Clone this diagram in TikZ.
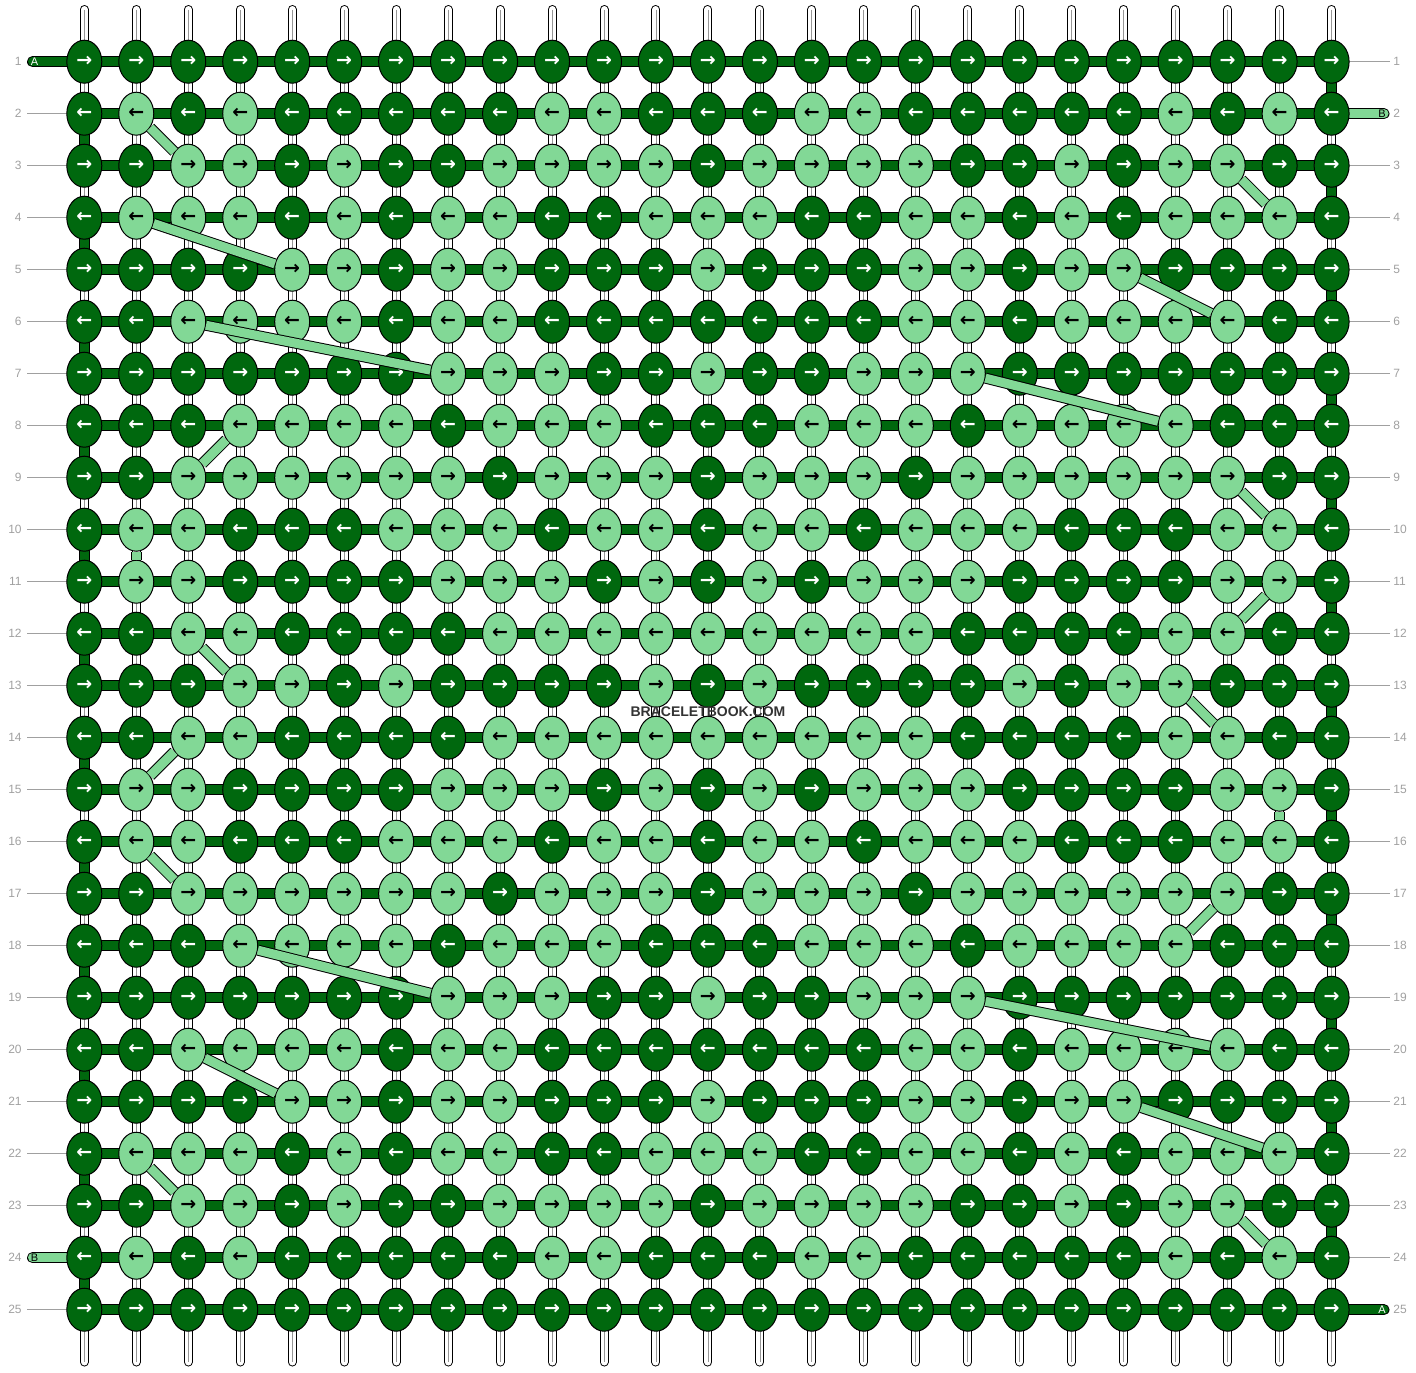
\documentclass[tikz,border=0pt]{standalone}
\usepackage{fontspec}
\setmainfont{Liberation Sans}
\newfontfamily\arrowfont{DejaVu Sans}
\usetikzlibrary{shapes.geometric}
\definecolor{dg}{RGB}{0,104,14}
\definecolor{lg}{RGB}{130,216,150}
\definecolor{lbl}{RGB}{160,160,160}
\definecolor{wm}{RGB}{51,51,51}
\definecolor{strmid}{RGB}{150,150,150}
\begin{document}
\begin{tikzpicture}[x=0.5pt,y=-0.5pt,
  knot/.style={ellipse,draw=black,line width=0.5pt,minimum width=17.5pt,minimum height=21.5pt,inner sep=0pt,font=\arrowfont\bfseries\fontsize{9.5}{9.5}\selectfont},
  thrA/.style={line width=0.5pt,draw=black,double=dg,double distance=4.5pt},
  thrB/.style={line width=0.5pt,draw=black,double=lg,double distance=4.5pt},
  strout/.style={line width=4.5pt,draw=black,line cap=round},
  strin/.style={line width=3.5pt,draw=white,line cap=round},
  strc/.style={line width=0.4pt,draw=strmid},
  lblline/.style={line width=0.5pt,draw=lbl},
  lbltext/.style={inner sep=0pt,text=lbl,font=\fontsize{6}{6}\selectfont},
  endlbl/.style={inner sep=0pt,font=\fontsize{5.5}{5.5}\selectfont}]
\useasboundingbox (0,0) rectangle (1416,1372);
% coordinates
\foreach \r in {1,...,25}{
  \foreach \c in {1,...,25}{
    \coordinate (p-\r-\c) at ({84.3+51.97*(\c-1)},{61.7+52*(\r-1)});
  }
}
% vertical strings
\foreach \c in {1,...,25}{
  \coordinate (st-\c) at ({84.3+51.97*(\c-1)},9.5);
  \coordinate (sb-\c) at ({84.3+51.97*(\c-1)},1362);
  \draw[strout] (st-\c) -- (sb-\c);
  \draw[strin] (st-\c) -- (sb-\c);
  \draw[strc] (st-\c) -- (sb-\c);
}
% thread A
\coordinate (Astart) at (32.5,61.7);
\coordinate (Aend) at (1384,1309.7);
\draw[thrA,line cap=round] (Astart)
  \foreach \r [evaluate=\r as \s using int(\r+1)] in {1,3,...,23} { -- (p-\r-1) -- (p-\r-25) -- (p-\s-25) -- (p-\s-1) }
  -- (p-25-1) -- (p-25-25) -- (Aend);
% thread B stubs
\coordinate (Bstart) at (1384,113.7);
\coordinate (Bend) at (32.5,1257.7);
\draw[thrB,line cap=round] (Bstart) -- (p-2-25);
\draw[thrB,line cap=round] (Bend) -- (p-24-1);
% label lines
\foreach \r in {2,...,23,25}{
  \coordinate (ll-\r) at (27,{61.7+52*(\r-1)});
  \draw[lblline] (ll-\r) -- (p-\r-1);
}
\foreach \r in {1,3,4,...,24}{
  \coordinate (rl-\r) at (1390,{61.7+52*(\r-1)});
  \draw[lblline] (rl-\r) -- (p-\r-25);
}
% knots
\foreach \r/\pat in {
 1/{0,0,0,0,0,0,0,0,0,0,0,0,0,0,0,0,0,0,0,0,0,0,0,0,0},
 2/{0,1,0,1,0,0,0,0,0,1,1,0,0,0,1,1,0,0,0,0,0,1,0,1,0},
 3/{0,0,1,1,0,1,0,0,1,1,1,1,0,1,1,1,1,0,0,1,0,1,1,0,0},
 4/{0,1,1,1,0,1,0,1,1,0,0,1,1,1,0,0,1,1,0,1,0,1,1,1,0},
 5/{0,0,0,0,1,1,0,1,1,0,0,0,1,0,0,0,1,1,0,1,1,0,0,0,0},
 6/{0,0,1,1,1,1,0,1,1,0,0,0,0,0,0,0,1,1,0,1,1,1,1,0,0},
 7/{0,0,0,0,0,0,0,1,1,1,0,0,1,0,0,1,1,1,0,0,0,0,0,0,0},
 8/{0,0,0,1,1,1,1,0,1,1,1,0,0,0,1,1,1,0,1,1,1,1,0,0,0},
 9/{0,0,1,1,1,1,1,1,0,1,1,1,0,1,1,1,0,1,1,1,1,1,1,0,0},
 10/{0,1,1,0,0,0,1,1,1,0,1,1,0,1,1,0,1,1,1,0,0,0,1,1,0},
 11/{0,1,1,0,0,0,0,1,1,1,0,1,0,1,0,1,1,1,0,0,0,0,1,1,0},
 12/{0,0,1,1,0,0,0,0,1,1,1,1,1,1,1,1,1,0,0,0,0,1,1,0,0},
 13/{0,0,0,1,1,0,1,0,0,0,0,1,0,1,0,0,0,0,1,0,1,1,0,0,0},
 14/{0,0,1,1,0,0,0,0,1,1,1,1,1,1,1,1,1,0,0,0,0,1,1,0,0},
 15/{0,1,1,0,0,0,0,1,1,1,0,1,0,1,0,1,1,1,0,0,0,0,1,1,0},
 16/{0,1,1,0,0,0,1,1,1,0,1,1,0,1,1,0,1,1,1,0,0,0,1,1,0},
 17/{0,0,1,1,1,1,1,1,0,1,1,1,0,1,1,1,0,1,1,1,1,1,1,0,0},
 18/{0,0,0,1,1,1,1,0,1,1,1,0,0,0,1,1,1,0,1,1,1,1,0,0,0},
 19/{0,0,0,0,0,0,0,1,1,1,0,0,1,0,0,1,1,1,0,0,0,0,0,0,0},
 20/{0,0,1,1,1,1,0,1,1,0,0,0,0,0,0,0,1,1,0,1,1,1,1,0,0},
 21/{0,0,0,0,1,1,0,1,1,0,0,0,1,0,0,0,1,1,0,1,1,0,0,0,0},
 22/{0,1,1,1,0,1,0,1,1,0,0,1,1,1,0,0,1,1,0,1,0,1,1,1,0},
 23/{0,0,1,1,0,1,0,0,1,1,1,1,0,1,1,1,1,0,0,1,0,1,1,0,0},
 24/{0,1,0,1,0,0,0,0,0,1,1,0,0,0,1,1,0,0,0,0,0,1,0,1,0},
 25/{0,0,0,0,0,0,0,0,0,0,0,0,0,0,0,0,0,0,0,0,0,0,0,0,0}}{
  \foreach \v [count=\c] in \pat {
    \ifodd\r \def\arr{→}\else\def\arr{←}\fi
    \ifnum\v=0 \def\kfill{dg}\def\ktext{white}\else\def\kfill{lg}\def\ktext{black}\fi
    \node[knot,fill=\kfill,text=\ktext] (k-\r-\c) at (p-\r-\c) {\arr};
  }
}
% thread B diagonals
\foreach \a/\b in {2-2/3-3, 3-23/4-24, 4-2/5-5, 5-21/6-23, 6-3/7-8, 7-18/8-22,
  8-4/9-3, 9-23/10-24, 10-2/11-2, 11-24/12-23, 12-3/13-4, 13-22/14-23,
  14-3/15-2, 15-24/16-24, 16-2/17-3, 17-23/18-22, 18-4/19-8, 19-18/20-23,
  20-3/21-5, 21-21/22-24, 22-2/23-3, 23-23/24-24}{
  \draw[thrB] (k-\a) -- (k-\b);
}
% row labels
\foreach \r in {1,...,25}{
  \node[lbltext,anchor=east] (lab-l-\r) at (22,{61.7+52*(\r-1)}) {\r};
  \node[lbltext,anchor=west] (lab-r-\r) at (1393,{61.7+52*(\r-1)}) {\r};
}
% end labels
\node[endlbl,text=white] (lA1) at (34.5,61.7) {A};
\node[endlbl,text=white] (lA2) at (1382,1309.7) {A};
\node[endlbl,text=black] (lB1) at (1382,113.7) {B};
\node[endlbl,text=black] (lB2) at (34.5,1257.7) {B};
% watermark
\node[inner sep=0pt,text=wm,font=\bfseries\fontsize{7}{7}\selectfont] (wmark) at (708,712) {BRACELETBOOK.COM};
\end{tikzpicture}
\end{document}
